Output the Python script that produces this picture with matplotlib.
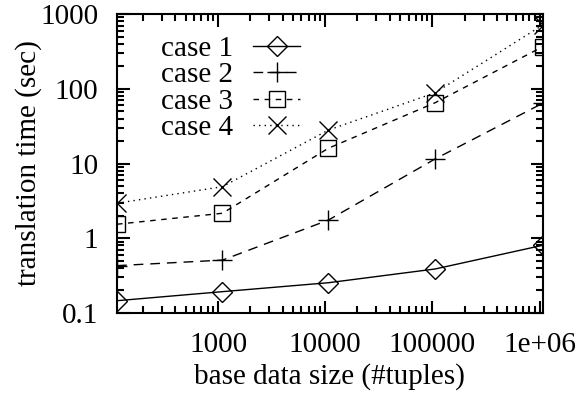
import matplotlib
matplotlib.use("Agg")
import matplotlib.pyplot as plt
from matplotlib.ticker import FixedLocator, FuncFormatter, LogLocator, NullFormatter

plt.rcParams['font.family'] = ['Liberation Serif', 'DejaVu Serif']

# data
sizes = [114, 1100, 10700, 106000, 1070000]
case1 = [0.146, 0.193, 0.254, 0.388, 0.805]
case2 = [0.43, 0.51, 1.75, 11.5, 64]
case3 = [1.54, 2.16, 16.0, 65, 365]
case4 = [2.94, 4.9, 28, 88.5, 713]

x_ticks = [1000, 10000, 100000, 1000000]
x_tick_labels = ['1000', '10000', '100000', '1e+06']
y_ticks = [0.1, 1, 10, 100, 1000]
y_tick_labels = ['0.1', '1', '10', '100', '1000']

fs = 21

fig = plt.figure(figsize=(5.84, 3.97), dpi=100)
ax = fig.add_axes([0.2003, 0.2116, 0.7290, 0.7531])

ax.plot(sizes, case1, color='black', lw=1, ls='-', marker='D', ms=10,
        mfc='none', mec='black', mew=1, label='case 1')
ax.plot(sizes, case2, color='black', lw=1, ls=(0, (7, 5)), marker='+', ms=15,
        mew=1, label='case 2')
ax.plot(sizes, case3, color='black', lw=1, ls=(0, (4, 4)), marker='s', ms=12,
        mfc='none', mec='black', mew=1, label='case 3')
ax.plot(sizes, case4, color='black', lw=1, ls=(0, (1, 3)), marker='x', ms=13,
        mew=1, label='case 4')

ax.set_xscale('log')
ax.set_yscale('log')
ax.set_xlim(sizes[0], sizes[-1])
ax.set_ylim(0.1, 1000)

ax.xaxis.set_major_locator(FixedLocator(x_ticks))
ax.xaxis.set_major_formatter(FuncFormatter(lambda v, p: x_tick_labels[x_ticks.index(v)] if v in x_ticks else ''))
ax.yaxis.set_major_locator(FixedLocator(y_ticks))
ax.yaxis.set_major_formatter(FuncFormatter(lambda v, p: y_tick_labels[y_ticks.index(v)] if v in y_ticks else ''))
ax.xaxis.set_minor_locator(LogLocator(base=10, subs=range(2, 10), numticks=20))
ax.yaxis.set_minor_locator(LogLocator(base=10, subs=range(2, 10), numticks=20))
ax.xaxis.set_minor_formatter(NullFormatter())
ax.yaxis.set_minor_formatter(NullFormatter())

ax.tick_params(which='both', direction='in', top=True, right=True, width=1.5, labelsize=fs)
ax.tick_params(which='major', length=9)
ax.tick_params(which='minor', length=5)
ax.tick_params(axis='y', pad=13.4)
ax.tick_params(axis='x', pad=14)
for s in ax.spines.values():
    s.set_linewidth(1.5)

ax.set_xlabel('base data size (#tuples)', fontsize=fs, labelpad=3)
ax.set_ylabel('translation time (sec)', fontsize=fs, labelpad=-1)

leg = ax.legend(loc='upper left', bbox_to_anchor=(0.0755, 0.967), frameon=False, fontsize=fs,
                markerfirst=False, handlelength=1.6, handletextpad=0.7,
                labelspacing=0.0, borderaxespad=0)
for t in leg.get_texts():
    t.set_ha('right')

fig.savefig('out.png', dpi=100)
